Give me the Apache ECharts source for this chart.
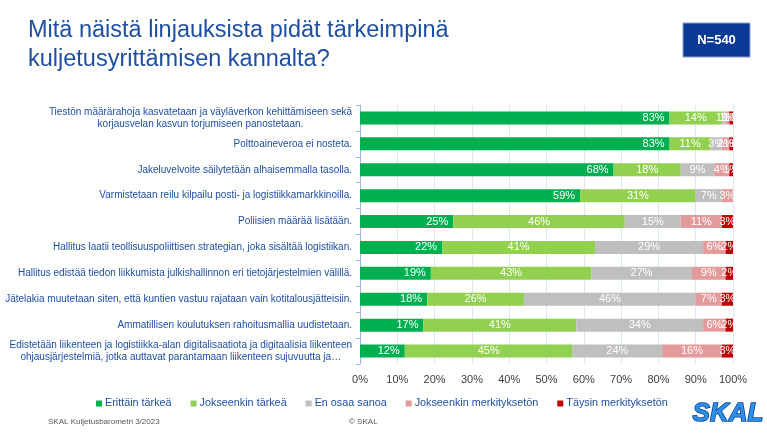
<!DOCTYPE html>
<html><head><meta charset="utf-8">
<script src="https://cdn.jsdelivr.net/npm/echarts@6/dist/echarts.min.js"></script>
<style>html,body{margin:0;padding:0;background:#fff}#c{width:767px;height:443px}</style>
</head><body><div id="c"></div>
<script>
var categories = [
  "Tiestön määrärahoja kasvatetaan ja väyläverkon kehittämiseen sekä\nkorjausvelan kasvun torjumiseen panostetaan.",
  "Polttoaineveroa ei nosteta.",
  "Jakeluvelvoite säilytetään alhaisemmalla tasolla.",
  "Varmistetaan reilu kilpailu posti- ja logistiikkamarkkinoilla.",
  "Poliisien määrää lisätään.",
  "Hallitus laatii teollisuuspoliittisen strategian, joka sisältää logistiikan.",
  "Hallitus edistää tiedon liikkumista julkishallinnon eri tietojärjestelmien välillä.",
  "Jätelakia muutetaan siten, että kuntien vastuu rajataan vain kotitalousjätteisiin.",
  "Ammatillisen koulutuksen rahoitusmallia uudistetaan.",
  "Edistetään liikenteen ja logistiikka-alan digitalisaatiota ja digitaalisia liikenteen\nohjausjärjestelmiä, jotka auttavat parantamaan liikenteen sujuvuutta ja…"
];
var seriesNames = ["Erittäin tärkeä", "Jokseenkin tärkeä", "En osaa sanoa", "Jokseenkin merkityksetön", "Täysin merkityksetön"];
var erittain   = [83, 83, 68, 59, 25, 22, 19, 18, 17, 12];
var jokseenkin = [14, 11, 18, 31, 46, 41, 43, 26, 41, 45];
var enOsaa     = [1, 3, 9, 7, 15, 29, 27, 46, 34, 24];
var jokMerk    = [1, 2, 4, 3, 11, 6, 9, 7, 6, 16];
var taysin     = [1, 1, 1, 0, 3, 2, 2, 3, 2, 3];
var tickLabels = ["0%","10%","20%","30%","40%","50%","60%","70%","80%","90%","100%"];
var colors = ["#00b050", "#92d050", "#bfbfbf", "#e39a9a", "#c00000"];

var dataSets = [erittain, jokseenkin, enOsaa, jokMerk, taysin];
var blue = "#1f4fa0";
var chart = echarts.init(document.getElementById('c'), null, {renderer: 'canvas'});
var series = dataSets.map(function (d, i) {
  return {
    name: seriesNames[i], type: 'bar', stack: 'a', barWidth: 13,
    itemStyle: {color: colors[i]},
    label: {
      show: true, position: i === 0 ? 'insideRight' : 'inside',
      color: '#fff', fontSize: 11, fontFamily: 'Liberation Sans',
      formatter: function (p) { return p.value > 0 ? p.value + '%' : ''; }
    },
    data: d
  };
});
chart.setOption({
  animation: false,
  color: colors,
  grid: {left: 360, right: 34, top: 105, bottom: 79},
  xAxis: {
    type: 'value', min: 0, max: 100, interval: 10,
    axisLabel: {formatter: function (v) { return tickLabels[v / 10]; }, color: '#404040', fontSize: 11, fontFamily: 'Liberation Sans', margin: 10},
    splitLine: {show: true, lineStyle: {color: '#dde6f2', width: 1}},
    axisLine: {show: false}, axisTick: {show: false}
  },
  yAxis: {
    type: 'category', inverse: true, data: categories,
    axisLine: {show: true, lineStyle: {color: '#9fb8dc'}},
    axisTick: {show: true, length: 4, lineStyle: {color: '#9fb8dc'}},
    axisLabel: {
      color: blue, fontSize: 10, fontFamily: 'Liberation Sans', margin: 8, lineHeight: 12,
      formatter: function (v) { return v.split('\n').map(function (l) { return '{a|' + l + '}'; }).join('\n'); },
      rich: {a: {align: 'center', color: blue, fontSize: 10, fontFamily: 'Liberation Sans', lineHeight: 12}}
    }
  },
  legend: {
    left: 91, top: 393, itemWidth: 6, itemHeight: 6, itemGap: 19, icon: 'rect',
    textStyle: {color: blue, fontSize: 10.8, fontFamily: 'Liberation Sans', padding: [0, 0, 0, -2]},
    data: seriesNames
  },
  graphic: [
    {type: 'text', left: 28, top: 16, style: {text: 'Mitä näistä linjauksista pidät tärkeimpinä\nkuljetusyrittämisen kannalta?', fill: blue, font: '23.5px "Liberation Sans"', lineHeight: 29}},
    {type: 'rect', shape: {x: 683, y: 23, width: 67, height: 34}, style: {fill: '#0b3a95', stroke: '#8aa0c8', lineWidth: 1}},
    {type: 'text', x: 716.5, y: 40, style: {text: 'N=540', fill: '#fff', font: 'bold 13px "Liberation Sans"', align: 'center', verticalAlign: 'middle'}},
    {type: 'text', left: 48, top: 418, style: {text: 'SKAL Kuljetusbarometri 3/2023', fill: '#555', font: '8px "Liberation Sans"'}},
    {type: 'text', left: 349, top: 418, style: {text: '© SKAL', fill: '#555', font: '8px "Liberation Sans"'}},
    {type: 'text', x: 728, y: 414, style: {text: 'SKAL', fill: '#2e8fe6', stroke: '#0a3f96', lineWidth: 1.5, font: 'italic 900 26px "Liberation Sans"', align: 'center', verticalAlign: 'middle'}}
  ],
  series: series
});
</script></body></html>
